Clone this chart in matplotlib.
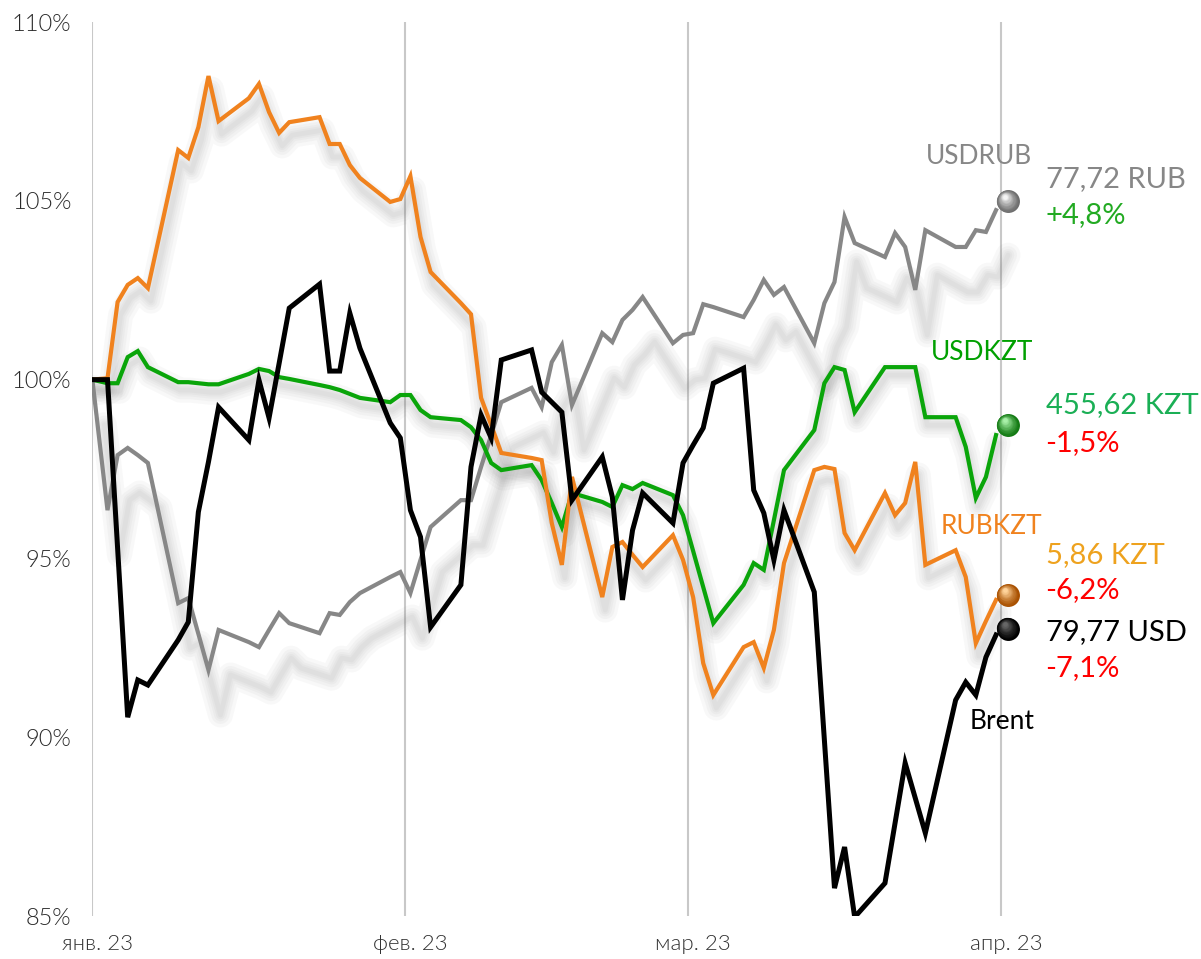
import numpy as np
import pandas as pd
import matplotlib
matplotlib.use("Agg")
import matplotlib.pyplot as plt
import matplotlib.dates as mdates
from matplotlib.transforms import offset_copy
from matplotlib.colors import to_rgb

plt.rcParams['font.family'] = ['Lato', 'DejaVu Sans']

# trading days, Jan 2 .. Mar 31 2023; every series starts at 100% on Jan 1
dates = pd.bdate_range('2023-01-02', '2023-03-31')
start = pd.Timestamp('2023-01-01')
end_mark = pd.Timestamp('2023-04-01 15:30')
months = ['2023-01-01', '2023-02-01', '2023-03-01', '2023-04-01']
month_labels = ['янв. 23', 'фев. 23', 'мар. 23', 'апр. 23']

usdrub = [96.35, 97.89, 98.09, 97.89, 97.67, 93.75, 93.89, 92.89, 91.88, 93.00,
          92.66, 92.52, 93.00, 93.47, 93.19, 92.91, 93.47, 93.42, 93.78, 94.03,
          94.48, 94.62,
          94.03, 94.96, 95.88, 96.63, 96.63, 97.56, 98.45, 99.37, 99.77, 99.23,
          100.49, 100.97, 99.29, 101.30, 101.05, 101.67, 101.95, 102.31, 101.02, 101.25,
          101.30, 102.11, 102.03, 101.75, 102.23, 102.79, 102.37, 102.59, 101.02, 102.14,
          102.73, 104.55, 103.82, 103.43, 104.10, 103.71, 102.51, 104.18, 103.71, 103.71,
          104.18, 104.13, 104.74]
usdkzt = [99.90, 99.90, 100.63, 100.80, 100.35, 99.93, 99.93, 99.90, 99.87, 99.87,
          100.16, 100.30, 100.24, 100.07, 100.02, 99.85, 99.79, 99.71, 99.60, 99.49,
          99.37, 99.57,
          99.57, 99.15, 98.95, 98.87, 98.67, 98.31, 97.67, 97.47, 97.61, 97.19,
          96.55, 95.88, 96.83, 96.58, 96.44, 97.05, 96.94, 97.11, 96.77, 96.21,
          95.21, 94.20, 93.19, 94.26, 94.87, 94.68, 96.07, 97.47, 98.59, 99.90,
          100.35, 100.27, 99.09, 100.35, 100.35, 100.35, 100.35, 98.95, 98.95, 98.12,
          96.69, 97.28, 98.45]
rubkzt = [100.04, 102.17, 102.65, 102.84, 102.56, 106.42, 106.20, 107.06, 108.49, 107.23,
          107.87, 108.27, 107.48, 106.90, 107.20, 107.34, 106.59, 106.59, 106.00, 105.64,
          104.97, 105.05,
          105.69, 103.99, 103.01, 102.14, 101.83, 99.49, 98.73, 97.95, 97.81, 97.75,
          95.99, 94.82, 97.28, 93.92, 95.32, 95.46, 95.10, 94.76, 95.65, 94.96,
          93.92, 92.07, 91.18, 92.52, 92.66, 91.94, 93.00, 94.87, 97.47, 97.56,
          97.50, 95.71, 95.23, 96.83, 96.21, 96.55, 97.70, 94.82, 95.23, 94.48,
          92.63, 93.25, 93.84]
brent = [100.00, 95.29, 90.56, 91.60, 91.46, 92.72, 93.22, 96.30, 97.70, 99.23,
         98.31, 99.99, 98.93, 100.46, 102.00, 102.67, 100.24, 100.24, 101.86, 100.88,
         98.79, 98.37,
         96.35, 95.60, 93.08, 94.26, 97.56, 99.01, 98.37, 100.55, 100.83, 99.65,
         99.37, 99.09, 96.63, 97.84, 96.72, 93.84, 95.79, 96.83, 95.99, 97.67,
         98.17, 98.65, 99.90, 100.32, 96.91, 96.27, 94.96, 96.35, 94.06, 89.92,
         85.78, 86.93, 84.97, 85.92, 87.60, 89.28, 88.30, 87.32, 91.04, 91.54,
         91.18, 92.24, 92.86]

names = ['USDRUB', 'USDKZT', 'RUBKZT', 'Brent']
end_values = [104.99, 98.73, 93.98, 93.03]
last_prices = ['77,72 RUB', '455,62 KZT', '5,86 KZT', '79,77 USD']
changes = ['+4,8%', '-1,5%', '-6,2%', '-7,1%']

line_colors = ['#878787', '#0aa50a', '#f0821e', '#000000']
name_colors = ['#878787', '#00a000', '#f0821e', '#000000']
price_colors = ['#878787', '#1aaf55', '#eea21e', '#000000']
change_colors = ['#22aa22', '#ff0000', '#ff0000', '#ff0000']
sphere_colors = [('#6e6e6e', '#f4f4f4'), ('#137a13', '#a8f0a8'),
                 ('#a85000', '#ffd39a'), ('#000000', '#666666')]
shadow_offsets = [(12, 45), (2, 8), (3, 13), None]   # pixels
widths = [3.0, 3.0, 3.0, 3.6]

# label offsets from the end spheres, pixels
name_offsets = [(25, 45), (26, 73), (35, 68), (27, -93)]
price_offsets = [(38, 22), (38, 20), (38, 40), (38, -3)]
change_offsets = [(38, -14), (38, -18), (38, 5), (38, -39)]

fig = plt.figure(figsize=(12.01, 9.59), dpi=100)
ax = fig.add_axes([0.0769, 0.0448, 0.9231, 0.9322])

x = mdates.date2num([start] + list(dates + pd.Timedelta(hours=12)))
xe = mdates.date2num(end_mark)


def mix(c1, c2, t):
    a, b = np.array(to_rgb(c1)), np.array(to_rgb(c2))
    return tuple(a + (b - a) * t)


def shadow(xs, ys, dx, dy):
    tr = offset_copy(ax.transData, fig=fig, x=dx, y=-dy, units='dots')
    for lw in (18, 13, 9, 6, 3.5):
        ax.plot(xs, ys, color='#6a6a6a', lw=lw, alpha=0.045, transform=tr,
                solid_joinstyle='round', solid_capstyle='round', zorder=1)


def sphere(xs, ys, dark, light, d=16.5, z=10):
    n = 12
    for i in range(n):
        t = i / (n - 1)
        tr = offset_copy(ax.transData, fig=fig, x=-t * d * 0.12, y=t * d * 0.2,
                         units='points')
        ax.plot([xs], [ys], 'o', ms=d * (1 - 0.8 * t), color=mix(dark, light, t ** 1.3),
                mec='none', transform=tr, zorder=z + i * 0.01, clip_on=False)


for m in months:
    ax.axvline(mdates.date2num(pd.Timestamp(m)), color='#c8c8c8', lw=1.5, zorder=0)

series = [usdrub, usdkzt, rubkzt, brent]
for k, vals in enumerate(series):
    ys = [100.0] + vals
    if shadow_offsets[k] is not None:
        shadow(x, ys, *shadow_offsets[k])
    ax.plot(x, ys, color=line_colors[k], lw=widths[k], zorder=3 + k,
            solid_joinstyle='miter')
    sphere(xe, end_values[k], *sphere_colors[k])

    pos = (xe, end_values[k])
    ax.annotate(names[k], pos, xytext=name_offsets[k], textcoords='offset pixels',
                ha='right', va='center', fontsize=19, color=name_colors[k], zorder=20)
    ax.annotate(last_prices[k], pos, xytext=price_offsets[k], textcoords='offset pixels',
                ha='left', va='center', fontsize=21, color=price_colors[k], zorder=20)
    ax.annotate(changes[k], pos, xytext=change_offsets[k], textcoords='offset pixels',
                ha='left', va='center', fontsize=21, color=change_colors[k], zorder=20)

ax.set_ylim(85, 110)
ax.set_xlim(mdates.date2num(start), mdates.date2num(start) + 109.8)
ax.set_yticks([85, 90, 95, 100, 105, 110])
ax.set_yticklabels(['85%', '90%', '95%', '100%', '105%', '110%'],
                   fontsize=17, color='#2a2a2a', fontweight=300)
ax.set_xticks(mdates.date2num(pd.to_datetime(months) + pd.Timedelta(hours=12)))
ax.set_xticklabels(month_labels, fontsize=16, color='#333333', fontweight=300)
ax.tick_params(axis='both', length=0)
ax.tick_params(axis='y', pad=15)
ax.tick_params(axis='x', pad=13)
for s in ax.spines.values():
    s.set_visible(False)

fig.savefig('out.png', dpi=100)
